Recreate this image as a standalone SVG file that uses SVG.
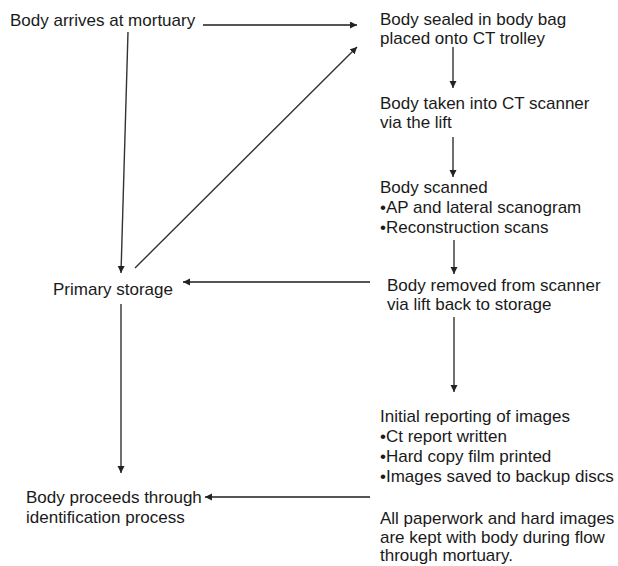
<svg xmlns="http://www.w3.org/2000/svg" width="618" height="566" viewBox="0 0 618 566">
<defs>
<marker id="ah" markerWidth="8" markerHeight="8" refX="7" refY="3.5" orient="auto" markerUnits="userSpaceOnUse">
<path d="M0,0 L7,3.5 L0,7 Z" fill="#222"/>
</marker>
<style>
text{font-family:"Liberation Sans",Arial,sans-serif;font-size:17px;fill:#1a1a1a}
.c line{stroke:#333;stroke-width:1.4;fill:none;marker-end:url(#ah)}
.c line.h{stroke:#555;stroke-width:1.8}
</style>
</defs>
<rect width="618" height="566" fill="#fff"/>
<g class="c" id="connectors">
<line class="h" x1="203" y1="25" x2="357" y2="25"/>
<line x1="128" y1="32" x2="121" y2="273"/>
<line x1="135" y1="268" x2="357" y2="47"/>
<line x1="453" y1="47" x2="453" y2="88"/>
<line x1="453" y1="137" x2="453" y2="177"/>
<line x1="454" y1="240" x2="454" y2="274"/>
<line x1="454" y1="317" x2="454" y2="392"/>
<line class="h" x1="370" y1="282" x2="183" y2="282"/>
<line x1="121" y1="304" x2="121" y2="473"/>
<line class="h" x1="370" y1="497" x2="205" y2="497"/>
</g>
<g id="n-arrives"><text x="10" y="26">Body arrives at mortuary</text></g>
<g id="n-sealed"><text x="380" y="25">Body sealed in body bag</text><text x="380" y="44">placed onto CT trolley</text></g>
<g id="n-taken"><text x="380" y="109">Body taken into CT scanner</text><text x="380" y="128">via the lift</text></g>
<g id="n-scanned"><text x="380" y="193">Body scanned</text><text x="380" y="213">•AP and lateral scanogram</text><text x="380" y="233">•Reconstruction scans</text></g>
<g id="n-removed"><text x="387" y="291">Body removed from scanner</text><text x="387" y="310">via lift back to storage</text></g>
<g id="n-storage"><text x="53" y="295">Primary storage</text></g>
<g id="n-reporting"><text x="380" y="422">Initial reporting of images</text><text x="380" y="442">•Ct report written</text><text x="380" y="462">•Hard copy film printed</text><text x="380" y="482">•Images saved to backup discs</text></g>
<g id="n-paperwork"><text x="380" y="524">All paperwork and hard images</text><text x="380" y="543">are kept with body during flow</text><text x="380" y="561">through mortuary.</text></g>
<g id="n-proceeds"><text x="26" y="503">Body proceeds through</text><text x="26" y="523">identification process</text></g>
</svg>
